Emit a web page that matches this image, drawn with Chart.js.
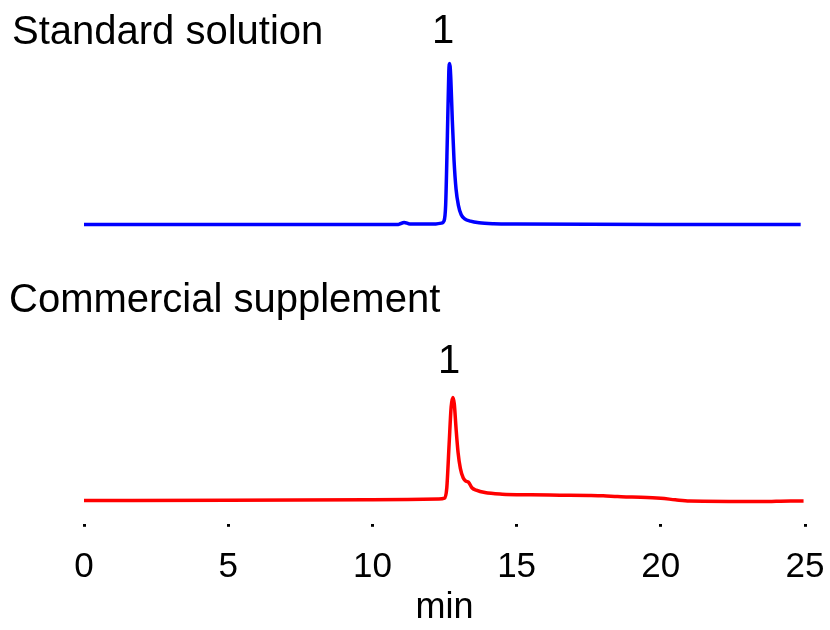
<!DOCTYPE html>
<html>
<head>
<meta charset="utf-8">
<title>Chromatograms</title>
<script src="https://cdn.jsdelivr.net/npm/chart.js@4"></script>
<style>
  html, body { margin: 0; padding: 0; background: #fff; }
  #wrap { width: 830px; height: 630px; }
</style>
</head>
<body>
<div id="wrap"><canvas id="chromChart"></canvas></div>
<script>
// retention time (min) and detector response (relative, peak of standard = 100)
var standardTimes = [0, 5, 10, 10.9, 11.1, 11.3, 12.2, 12.4, 12.48, 12.54, 12.6, 12.65, 12.68, 12.72, 12.77, 12.83, 12.9, 12.98, 13.08, 13.2, 13.4, 13.7, 14.2, 15, 20, 24.85];
var standardSignal = [0, 0, 0, 0, 1.2, 0.3, 0.3, 0.8, 2, 12, 55, 95, 100, 90, 65, 40, 22, 12, 6, 3.5, 2, 1, 0.4, 0.2, 0, 0];

var supplementTimes = [0, 5, 10, 12.3, 12.5, 12.58, 12.66, 12.73, 12.79, 12.84, 12.9, 12.97, 13.05, 13.15, 13.25, 13.33, 13.45, 13.6, 13.9, 14.5, 15.5, 16.5, 17.5, 18, 18.5, 19, 20, 20.5, 21, 23.5, 24.5, 24.95];
var supplementSignal = [0, 0.2, 0.5, 1, 1.5, 8, 35, 58, 64, 60, 45, 30, 20, 14, 12, 11.5, 8, 6.5, 5, 4, 3.6, 3.4, 3.2, 3.0, 2.5, 2.2, 1.5, 0.5, -0.3, -0.6, -0.2, -0.2];

var tickValues = [0, 5, 10, 15, 20, 25];
var traceNames = ['Standard solution', 'Commercial supplement'];
var peakLabels = ['1', '1'];
var peakLabelTimes = [12.45, 12.66];

function toPoints(xs, ys) {
    var pts = [];
    for (var i = 0; i < xs.length; i++) {
        pts.push({ x: xs[i], y: ys[i] });
    }
    return pts;
}

var labelFont = "'Liberation Sans', Arial, sans-serif";

// draws trace names and peak numbers
var annotations = {
    id: 'annotations',
    afterDatasetsDraw: function (chart) {
        var ctx = chart.ctx;
        var x = chart.scales.x;
        ctx.save();
        ctx.fillStyle = '#000';
        ctx.font = '40px ' + labelFont;
        ctx.textBaseline = 'alphabetic';
        ctx.textAlign = 'left';
        ctx.fillText(traceNames[0], 12, 44);
        ctx.fillText(traceNames[1], 9, 312);
        ctx.textAlign = 'center';
        ctx.fillText(peakLabels[0], x.getPixelForValue(peakLabelTimes[0]), 43);
        ctx.fillText(peakLabels[1], x.getPixelForValue(peakLabelTimes[1]), 373);
        ctx.restore();
    }
};

var ctx = document.getElementById('chromChart');
var chromChart = new Chart(ctx, {
    type: 'line',
    data: {
        datasets: [
            {
                label: traceNames[0],
                data: toPoints(standardTimes, standardSignal),
                borderColor: '#0000ff',
                borderWidth: 3.5,
                pointRadius: 0,
                cubicInterpolationMode: 'monotone',
                yAxisID: 'yStd',
                clip: false
            },
            {
                label: traceNames[1],
                data: toPoints(supplementTimes, supplementSignal),
                borderColor: '#ff0000',
                borderWidth: 3.5,
                pointRadius: 0,
                cubicInterpolationMode: 'monotone',
                yAxisID: 'ySup',
                clip: false
            }
        ]
    },
    options: {
        responsive: true,
        maintainAspectRatio: false,
        animation: false,
        layout: { padding: { left: 84, right: 25, top: 0, bottom: 0 } },
        plugins: {
            legend: { display: false },
            tooltip: { enabled: false }
        },
        scales: {
            x: {
                type: 'linear',
                min: 0,
                max: 25,
                afterBuildTicks: function (axis) {
                    axis.ticks = tickValues.map(function (v) { return { value: v }; });
                },
                // tick padding should only push labels down, not squeeze the plot sideways
                afterFit: function (axis) {
                    axis.paddingLeft = 0;
                    axis.paddingRight = 0;
                },
                border: { display: false },
                grid: {
                    drawOnChartArea: false,
                    drawTicks: true,
                    tickLength: 3,
                    tickWidth: 3,
                    tickColor: '#000'
                },
                ticks: {
                    color: '#000',
                    padding: 20,
                    maxRotation: 0,
                    font: { family: labelFont, size: 35 }
                },
                title: {
                    display: true,
                    text: 'min',
                    color: '#000',
                    padding: { top: -22, bottom: 0 },
                    font: { family: labelFont, size: 36 }
                }
            },
            // two overlapping response axes, each placing its trace in its own band
            yStd: { display: false, min: -186, max: 139.4 },
            ySup: { display: false, min: -14.4, max: 311 }
        }
    },
    plugins: [annotations]
});
</script>
</body>
</html>
